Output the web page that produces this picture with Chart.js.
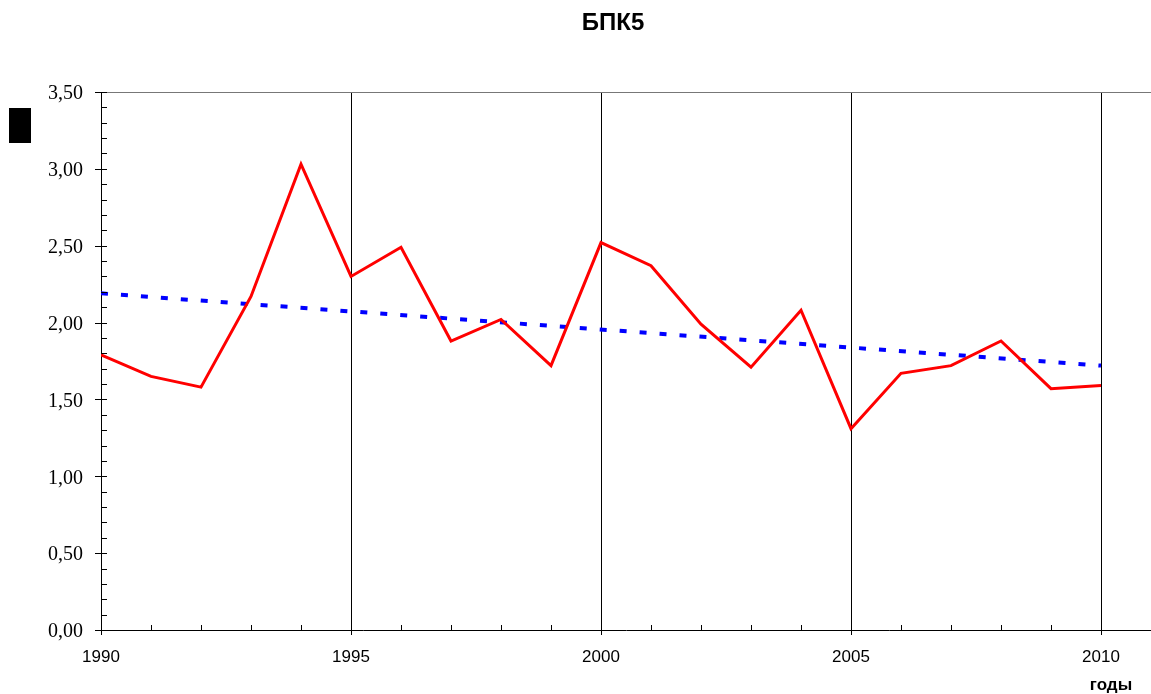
<!DOCTYPE html>
<html>
<head>
<meta charset="utf-8">
<script src="https://cdn.jsdelivr.net/npm/chart.js@4"></script>
<style>
  body { margin: 0; background: #fff; }
  canvas { display: block; }
</style>
</head>
<body>
<canvas id="bpkChart" width="1151" height="694"></canvas>
<script>
// Data
var years = [1990, 1991, 1992, 1993, 1994, 1995, 1996, 1997, 1998, 1999, 2000,
             2001, 2002, 2003, 2004, 2005, 2006, 2007, 2008, 2009, 2010];
var bpkValues = [1.79, 1.65, 1.58, 2.17, 3.03, 2.30, 2.49, 1.88, 2.02, 1.72, 2.52,
                 2.37, 1.99, 1.71, 2.08, 1.31, 1.67, 1.72, 1.88, 1.57, 1.59];
// linear trend, only its two ends
var trendYears = [1990, 2010];
var trendValues = [2.19, 1.72];

var chartTitle = "БПК5";
var xAxisName = "годы";

var yMin = 0, yMax = 3.5, yStep = 0.5, yMinorStep = 0.1;
var xMin = 1990, xMax = 2011, xStep = 5;

function toPoints(xs, ys) {
  return xs.map(function (x, i) { return { x: x, y: ys[i] }; });
}

// Extra bits: minor ticks, top line, title, axis name, black marker
var decorPlugin = {
  id: 'decor',
  afterDraw: function (chart) {
    var ctx = chart.ctx;
    var area = chart.chartArea;
    var xs = chart.scales.x, ys = chart.scales.y;
    ctx.save();

    // top line
    ctx.strokeStyle = '#777';
    ctx.lineWidth = 1;
    ctx.beginPath();
    ctx.moveTo(area.left - 6, area.top + 0.5);
    ctx.lineTo(area.right, area.top + 0.5);
    ctx.stroke();

    ctx.strokeStyle = '#000';
    // y ticks
    var n = Math.round((yMax - yMin) / yMinorStep);
    for (var i = 0; i <= n; i++) {
      var v = yMin + i * yMinorStep;
      var py = Math.round(ys.getPixelForValue(v)) + 0.5;
      var major = (i % Math.round(yStep / yMinorStep)) === 0;
      ctx.beginPath();
      ctx.moveTo(major ? area.left - 6 : area.left, py);
      ctx.lineTo(area.left + 6, py);
      ctx.stroke();
    }
    // x minor ticks
    for (var yr = xMin; yr <= 2010; yr++) {
      if ((yr - xMin) % xStep === 0) continue;
      var px = Math.round(xs.getPixelForValue(yr)) + 0.5;
      ctx.beginPath();
      ctx.moveTo(px, area.bottom);
      ctx.lineTo(px, area.bottom - 5);
      ctx.stroke();
    }

    // black marker box on the left
    ctx.fillStyle = '#000';
    ctx.fillRect(9, 108, 22, 35);

    // title
    ctx.fillStyle = '#000';
    ctx.textAlign = 'center';
    ctx.textBaseline = 'middle';
    ctx.font = 'bold 24px "Liberation Sans", Arial, sans-serif';
    ctx.fillText(chartTitle, 613, 23);

    // axis name
    ctx.font = 'bold 17px "Liberation Sans", Arial, sans-serif';
    ctx.fillText(xAxisName, 1111, 685);

    ctx.restore();
  }
};

var bpkChart = new Chart(document.getElementById('bpkChart').getContext('2d'), {
  type: 'line',
  data: {
    datasets: [{
      label: 'БПК5',
      data: toPoints(years, bpkValues),
      borderColor: '#ff0000',
      borderWidth: 3,
      pointRadius: 0,
      tension: 0,
      fill: false
    }, {
      label: 'тренд',
      data: toPoints(trendYears, trendValues),
      borderColor: '#0000ff',
      borderWidth: 4,
      borderDash: [7, 13],
      borderCapStyle: 'butt',
      pointRadius: 0,
      tension: 0,
      fill: false
    }]
  },
  options: {
    responsive: false,
    animation: false,
    devicePixelRatio: 1,
    layout: { padding: { top: 92, left: 0, right: 0, bottom: 0 } },
    plugins: {
      legend: { display: false },
      title: { display: false },
      tooltip: { enabled: false }
    },
    scales: {
      x: {
        type: 'linear',
        min: xMin,
        max: xMax,
        grid: {
          display: true,
          color: '#000',
          lineWidth: 1,
          drawOnChartArea: true,
          drawTicks: true,
          tickLength: 5
        },
        border: { display: true, color: '#000', width: 1 },
        ticks: {
          stepSize: xStep,
          includeBounds: false,
          maxRotation: 0,
          padding: 12,
          color: '#000',
          font: { family: '"Liberation Sans", Arial, sans-serif', size: 17 },
          callback: function (value) { return String(value); }
        },
        afterFit: function (scale) { scale.height = 64; }
      },
      y: {
        min: yMin,
        max: yMax,
        grid: { display: false, drawTicks: false },
        border: { display: true, color: '#000', width: 1 },
        ticks: {
          stepSize: yStep,
          padding: 18,
          labelOffset: 2,
          color: '#000',
          font: { family: '"Liberation Serif", "Times New Roman", serif', size: 20 },
          callback: function (value) { return value.toFixed(2).replace('.', ','); }
        },
        afterFit: function (scale) { scale.width = 101; }
      }
    }
  },
  plugins: [decorPlugin]
});
</script>
</body>
</html>
